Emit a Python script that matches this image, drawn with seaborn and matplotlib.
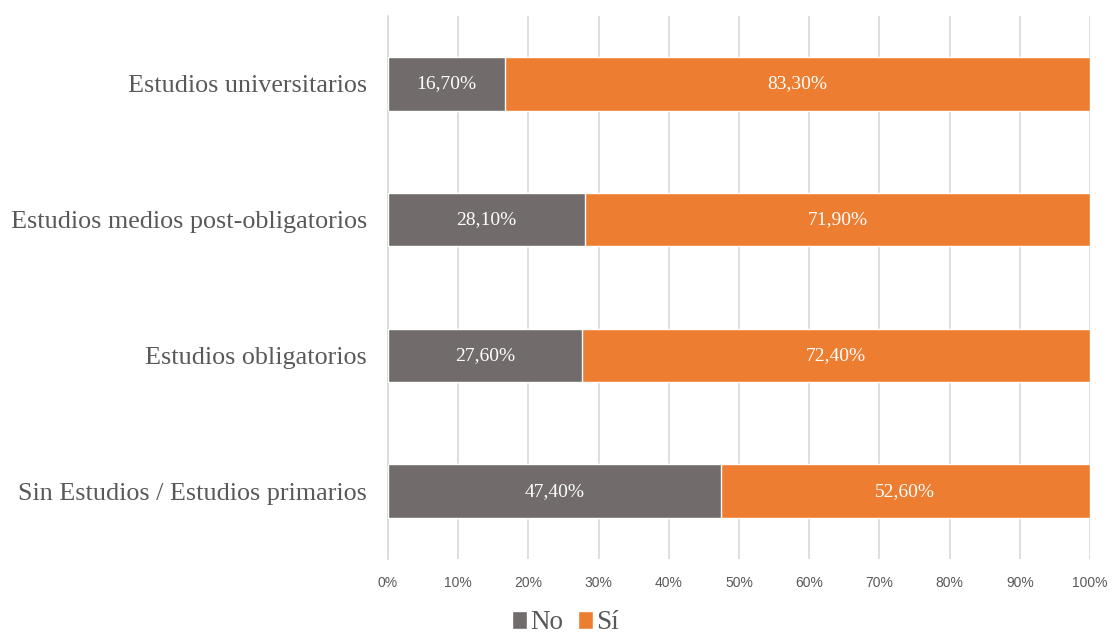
import matplotlib
matplotlib.use("Agg")
import matplotlib.pyplot as plt
import seaborn as sns
import pandas as pd
import numpy as np
from matplotlib.patches import Patch

categories = [
    "Estudios universitarios",
    "Estudios medios post-obligatorios",
    "Estudios obligatorios",
    "Sin Estudios / Estudios primarios",
]
no_vals = [16.7, 28.1, 27.6, 47.4]
si_vals = [83.3, 71.9, 72.4, 52.6]
series_names = ["No", "Sí"]
x_ticks = [0, 10, 20, 30, 40, 50, 60, 70, 80, 90, 100]

GRAY = "#716C6B"
ORANGE = "#ED7D31"

sns.set_theme(style="white")
plt.rcParams["font.family"] = ["Liberation Serif", "DejaVu Serif"]

df = pd.DataFrame({"cat": categories, "No": no_vals, "Sí": si_vals})
df["total"] = df["No"] + df["Sí"]

fig = plt.figure(figsize=(11.13, 6.37), dpi=100)
ax = fig.add_axes([0.3486, 0.1224, 0.6307, 0.8525])

# stacked horizontal bars: full-length "Sí" underneath, "No" on top from 0
sns.barplot(data=df, x="total", y="cat", color=ORANGE, width=0.395,
            saturation=1, ax=ax, zorder=3)
sns.barplot(data=df, x="No", y="cat", color=GRAY, width=0.395,
            saturation=1, ax=ax, zorder=4)

bars_total = ax.containers[0]
bars_no = ax.containers[1]

def fmt(v):
    return f"{v:.2f}".replace(".", ",") + "%"

ax.bar_label(bars_no, labels=[fmt(v) for v in no_vals], label_type="center",
             color="white", fontsize=14, family="Liberation Serif", zorder=6)
for rect, n, s in zip(bars_total, no_vals, si_vals):
    y = rect.get_y() + rect.get_height() / 2
    ax.text(n + s / 2, y, fmt(s), ha="center", va="center", color="white",
            fontsize=14, family="Liberation Serif", zorder=6)

ax.set_xlim(0, 100)
ax.set_xticks(x_ticks)
ax.set_xticklabels([f"{t}%" for t in x_ticks], family="Liberation Sans",
                   fontsize=10, color="#595959")
ax.tick_params(axis="x", length=0, pad=12)
ax.tick_params(axis="y", length=0, pad=15, labelsize=18.8, labelcolor="#595959")
ax.set_xlabel("")
ax.set_ylabel("")
ax.xaxis.grid(True, color="#D9D9D9", linewidth=1.2, zorder=0)
ax.set_axisbelow(True)
for side in ["top", "right", "bottom"]:
    ax.spines[side].set_visible(False)
ax.spines["left"].set_color("#D9D9D9")
ax.spines["left"].set_linewidth(1.2)

handles = [Patch(facecolor=GRAY, label=series_names[0]),
           Patch(facecolor=ORANGE, label=series_names[1])]
fig.legend(handles=handles, loc="center", bbox_to_anchor=(0.508, 0.022),
           ncol=2, frameon=False, fontsize=19.5, handlelength=0.55,
           handleheight=0.6, handletextpad=0.12, columnspacing=0.55,
           labelcolor="#595959", borderpad=0)

fig.savefig("out.png", dpi=100)
